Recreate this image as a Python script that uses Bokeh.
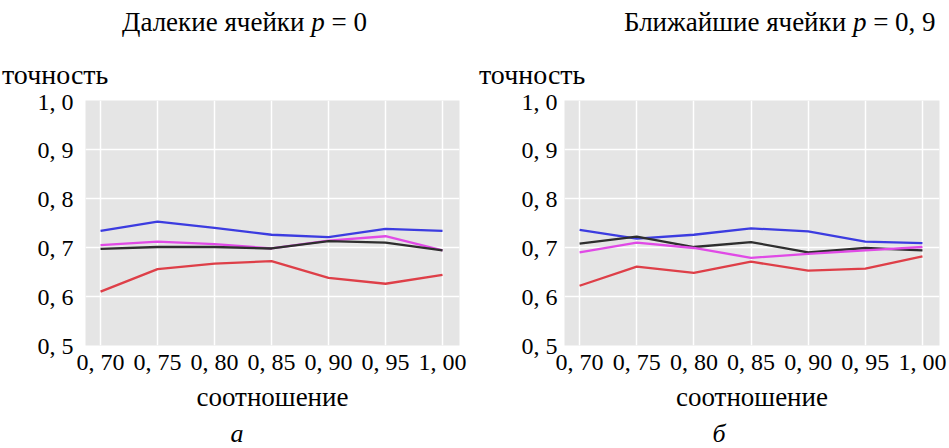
from bokeh.plotting import figure
from bokeh.layouts import row, column
from bokeh.models import FixedTicker, Div
from bokeh.embed import file_html
from bokeh.resources import INLINE

# ---- data ----
ratio = [0.70, 0.75, 0.80, 0.85, 0.90, 0.95, 1.00]
x_tick_labels = ["0, 70", "0, 75", "0, 80", "0, 85", "0, 90", "0, 95", "1, 00"]
y_ticks = [0.5, 0.6, 0.7, 0.8, 0.9, 1.0]
y_tick_labels = ["0, 5", "0, 6", "0, 7", "0, 8", "0, 9", "1, 0"]

far_blue = [0.734, 0.753, 0.740, 0.726, 0.721, 0.738, 0.734]
far_magenta = [0.705, 0.712, 0.707, 0.698, 0.714, 0.723, 0.694]
far_black = [0.697, 0.701, 0.701, 0.698, 0.713, 0.710, 0.694]
far_red = [0.610, 0.656, 0.667, 0.672, 0.638, 0.626, 0.644]

near_blue = [0.736, 0.718, 0.726, 0.739, 0.733, 0.712, 0.709]
near_black = [0.708, 0.722, 0.701, 0.711, 0.690, 0.699, 0.694]
near_magenta = [0.690, 0.710, 0.699, 0.679, 0.687, 0.694, 0.701]
near_red = [0.622, 0.661, 0.648, 0.671, 0.653, 0.657, 0.682]

y_title = "точность"
x_title = "соотношение"
title_left = "Далекие ячейки <i>p</i> = 0"
title_right = "Ближайшие ячейки <i>p</i> = 0, 9"

COLORS = {"blue": "#3c3ce0", "magenta": "#e04ae6", "black": "#2e2e2e", "red": "#de3f48"}
FONT = "Liberation Serif"
X0, X1 = 0.6868, 1.0149
Y0, Y1 = 0.5, 1.0

TOP_H, FIG_H, BOT_H = 88, 328, 32


def make_panel(width, left, right, ystand, series):
    top = 100 - TOP_H
    bottom = FIG_H - (345 - TOP_H)
    p = figure(width=width, height=FIG_H, x_range=(X0, X1), y_range=(Y0, Y1),
               output_backend="svg", toolbar_location=None,
               min_border_left=left, min_border_right=right,
               min_border_top=top, min_border_bottom=bottom)
    p.background_fill_color = "#e5e5e5"
    p.border_fill_color = "white"
    p.outline_line_color = None
    p.xaxis.ticker = FixedTicker(ticks=ratio)
    p.yaxis.ticker = FixedTicker(ticks=y_ticks)
    p.xaxis.major_label_overrides = {t: s for t, s in zip(ratio, x_tick_labels)}
    p.yaxis.major_label_overrides = {t: s for t, s in zip(y_ticks, y_tick_labels)}
    for ax in (p.xaxis, p.yaxis):
        ax.axis_line_color = None
        ax.major_tick_line_color = None
        ax.minor_tick_line_color = None
        ax.major_tick_out = 0
        ax.major_tick_in = 0
        ax.major_label_text_font = FONT
        ax.major_label_text_font_size = "24px"
        ax.major_label_text_color = "black"
    p.xaxis.major_label_standoff = 3
    p.yaxis.major_label_standoff = ystand
    p.xaxis.axis_label = x_title
    p.xaxis.axis_label_text_font = FONT
    p.xaxis.axis_label_text_font_style = "normal"
    p.xaxis.axis_label_text_font_size = "27px"
    p.xaxis.axis_label_text_color = "black"
    p.xaxis.axis_label_standoff = 4
    p.grid.grid_line_color = "white"
    p.grid.grid_line_width = 1.5
    p.grid.minor_grid_line_color = None

    for vals, c in series:
        p.line(ratio, vals, line_color=COLORS[c], line_width=2.3)
    return p


def span(text, x, y, size, italic=False, center=False):
    tx = "translate(-50%,-50%)" if center else "translateY(-50%)"
    st = "italic" if italic else "normal"
    return (f'<span style="position:absolute;left:{x}px;top:{y}px;transform:{tx};'
            f'font-family:&quot;{FONT}&quot;;font-size:{size}px;font-style:{st};line-height:1;'
            f'white-space:nowrap;color:black;">{text}</span>')


top_html = (f'<div style="position:relative;width:949px;height:{TOP_H}px;margin:0;padding:0;">'
            + span(title_left, 122, 22, 27)
            + span(title_right, 624, 22, 27)
            + span(y_title, 2, 75, 28)
            + span(y_title, 479, 75, 28)
            + '</div>')
bot_y = 434 - TOP_H - FIG_H
bot_html = (f'<div style="position:relative;width:949px;height:{BOT_H}px;margin:0;padding:0;">'
            + span("а", 237, bot_y, 26, italic=True, center=True)
            + span("б", 719, bot_y, 26, italic=True, center=True)
            + '</div>')

top_div = Div(text=top_html, width=949, height=TOP_H, margin=0)
bot_div = Div(text=bot_html, width=949, height=BOT_H, margin=0)

p1 = make_panel(474, 85, 15, 12,
                [(far_blue, "blue"), (far_magenta, "magenta"), (far_black, "black"), (far_red, "red")])
p2 = make_panel(475, 90, 10, 7,
                [(near_blue, "blue"), (near_black, "black"), (near_magenta, "magenta"), (near_red, "red")])

layout = column(top_div, row(p1, p2, spacing=0), bot_div, spacing=0)
open("out.html", "w").write(file_html(layout, INLINE))
